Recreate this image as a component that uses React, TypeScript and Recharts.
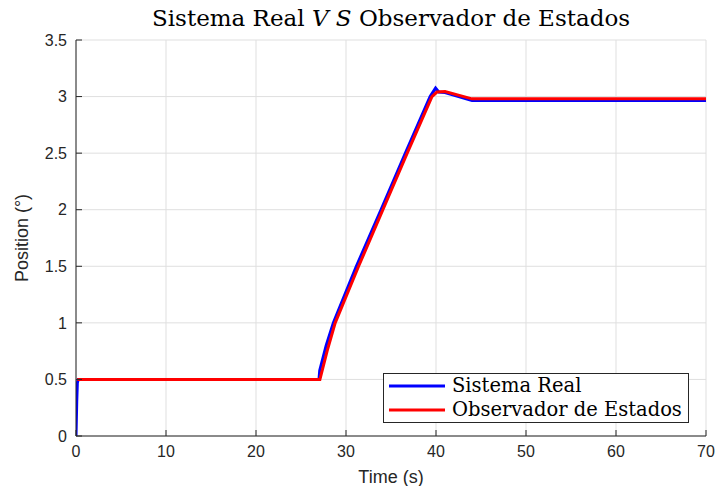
import React from 'react';
import { LineChart, Line, XAxis, YAxis, CartesianGrid, Legend } from 'recharts';

const realT = [0, 0.08, 0.15, 0.25, 27.0, 27.08, 27.8, 28.6, 31.15, 33.9, 36.6, 39.35, 39.95, 40.3, 41, 44, 70];
const realY = [0, 0.3, 0.47, 0.5, 0.5, 0.58, 0.8, 1.0, 1.5, 2.0, 2.5, 3.0, 3.075, 3.04, 3.035, 2.965, 2.965];
const obsT = [0.15, 27.1, 27.9, 28.8, 31.4, 34.1, 36.8, 39.55, 40.1, 41, 44, 70];
const obsY = [0.5, 0.5, 0.75, 1.0, 1.5, 2.0, 2.5, 3.0, 3.04, 3.045, 2.98, 2.98];
const xTicks = [0, 10, 20, 30, 40, 50, 60, 70];
const yTicks = [0, 0.5, 1, 1.5, 2, 2.5, 3, 3.5];
const seriesNames = ['Sistema Real', 'Observador de Estados'];

const realData = realT.map((t, i) => ({ t, y: realY[i] }));
const obsData = obsT.map((t, i) => ({ t, y: obsY[i] }));

const AX = '#262626';
const serif = '"DejaVu Serif", serif';
const sans = '"Liberation Sans", Arial, sans-serif';

const renderLegend = (props: any) => {
  const payload = [...(props.payload || [])].sort(
    (a: any, b: any) => seriesNames.indexOf(a.value) - seriesNames.indexOf(b.value)
  );
  return (
    <div style={{ background: '#fff', border: `1px solid ${AX}`, padding: '0px 6px 0px 4px', fontFamily: serif, fontSize: 19.5, color: '#000', lineHeight: '24px' }}>
      {payload.map((p: any) => (
        <div key={p.value} style={{ display: 'flex', alignItems: 'center', height: 24 }}>
          <svg width={58} height={10} style={{ marginRight: 6, flex: 'none' }}>
            <line x1={1} y1={5} x2={57} y2={5} stroke={p.color} strokeWidth={3} />
          </svg>
          <span style={{ whiteSpace: 'nowrap' }}>{p.value}</span>
        </div>
      ))}
    </div>
  );
};

export default function App() {
  return (
    <div style={{ position: 'absolute', left: 0, top: 0, width: 716, height: 486, background: '#fff' }}>
      <div style={{ position: 'absolute', left: 76, width: 630, top: 5, textAlign: 'center', fontFamily: serif, fontSize: 23, color: '#000', whiteSpace: 'nowrap' }}>
        Sistema Real <i>V S</i> Observador de Estados
      </div>
      <LineChart width={716} height={486} margin={{ top: 40, right: 10, bottom: 0, left: 0 }}>
        <CartesianGrid stroke="#dfdfdf" strokeWidth={1} />
        <XAxis
          dataKey="t"
          type="number"
          domain={[0, 70]}
          ticks={xTicks}
          allowDataOverflow
          height={50}
          stroke={AX}
          tickSize={-6}
          tickMargin={16}
          tick={{ fill: AX, fontSize: 16, fontFamily: sans }}
          label={{ value: 'Time (s)', position: 'insideBottom', offset: 3, style: { fill: AX, fontSize: 18, fontFamily: sans } }}
        />
        <XAxis xAxisId="top" orientation="top" type="number" domain={[0, 70]} ticks={xTicks} height={0} stroke={AX} tickSize={-6} tick={false} />
        <YAxis
          dataKey="y"
          type="number"
          domain={[0, 3.5]}
          ticks={yTicks}
          allowDataOverflow
          width={76}
          stroke={AX}
          tickSize={-6}
          tickMargin={15}
          tick={{ fill: AX, fontSize: 16, fontFamily: sans }}
          label={{ value: 'Position (°)', angle: -90, position: 'insideLeft', offset: 22, style: { fill: AX, fontSize: 18, fontFamily: sans, textAnchor: 'middle' } }}
        />
        <YAxis yAxisId="right" orientation="right" type="number" domain={[0, 3.5]} ticks={yTicks} width={0} stroke={AX} tickSize={-6} tick={false} />
        <Line data={realData} dataKey="y" name="Sistema Real" stroke="#0000ff" strokeWidth={3} dot={false} isAnimationActive={false} />
        <Line data={obsData} dataKey="y" name="Observador de Estados" stroke="#ff0000" strokeWidth={3} dot={false} isAnimationActive={false} />
        <Legend layout="vertical" align="center" verticalAlign="middle" content={renderLegend} wrapperStyle={{ position: 'absolute', left: 383, top: 373, width: 'auto' }} />
      </LineChart>
    </div>
  );
}
